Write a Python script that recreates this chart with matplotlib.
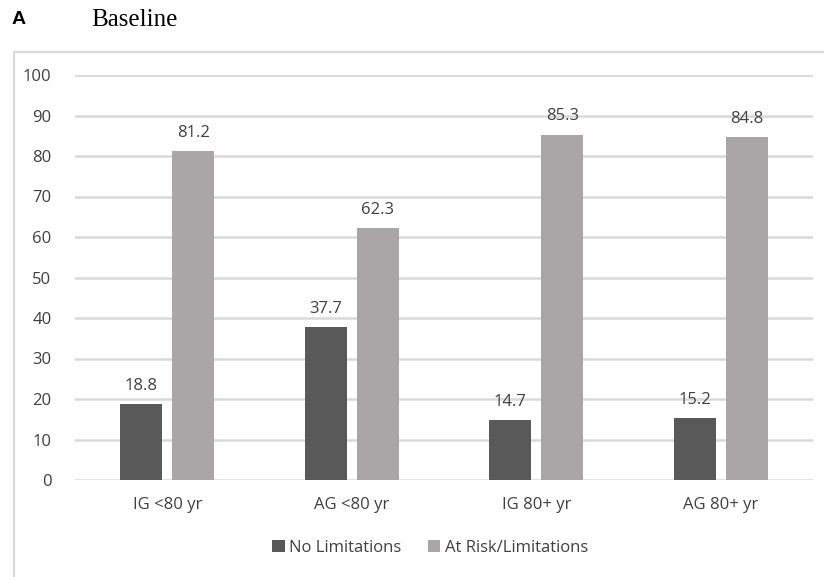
import matplotlib
matplotlib.use("Agg")
import matplotlib.pyplot as plt
from matplotlib.patches import Rectangle
import numpy as np

plt.rcParams['font.family'] = ['Open Sans', 'DejaVu Sans']

groups = ["IG <80 yr", "AG <80 yr", "IG 80+ yr", "AG 80+ yr"]
no_limitations = [18.8, 37.7, 14.7, 15.2]
at_risk = [81.2, 62.3, 85.3, 84.8]
series_names = ["No Limitations", "At Risk/Limitations"]
yticks = list(range(0, 101, 10))

dark = "#595959"
light = "#aaa6a7"
grid_col = "#d9d9d9"
txt_col = "#404040"

fig = plt.figure(figsize=(8.24, 5.77), dpi=100)

# outer chart frame
fig.patches.append(Rectangle((14 / 824, -0.05), 1.0, 1 - 52 / 577 + 0.05,
                             transform=fig.transFigure, fill=False,
                             edgecolor=grid_col, linewidth=1.6))

fig.text(12 / 824, 1 - 20 / 577, "A", fontsize=14, fontweight="bold",
         family="Liberation Sans", va="center", ha="left")
fig.text(91 / 824, 1 - 20 / 577, "Baseline", fontsize=18,
         family="Liberation Serif", va="center", ha="left")

ax = fig.add_axes([75 / 824, 1 - 480 / 577, (813 - 75) / 824, (480 - 75) / 577])
x = np.arange(len(groups))
w = 0.228
gap = 0.054
b1 = ax.bar(x - (w + gap) / 2, no_limitations, w, color=dark, label=series_names[0], zorder=3)
b2 = ax.bar(x + (w + gap) / 2, at_risk, w, color=light, label=series_names[1], zorder=3)

for bars, vals in ((b1, no_limitations), (b2, at_risk)):
    for rect, v in zip(bars, vals):
        ax.annotate(f"{v:.1f}", (rect.get_x() + rect.get_width() / 2, v),
                    xytext=(0, 13), textcoords="offset points",
                    ha="center", va="center", fontsize=12, color=txt_col)

ax.set_xlim(-0.5, len(groups) - 0.5)
ax.set_ylim(0, 100)
ax.set_yticks(yticks)
ax.set_xticks(x)
ax.set_xticklabels(groups)
ax.tick_params(axis="both", length=0, labelsize=12, labelcolor=txt_col)
ax.tick_params(axis="y", pad=17)
ax.tick_params(axis="x", pad=12)
ax.yaxis.grid(True, color=grid_col, linewidth=1.8, zorder=0)
for s in ax.spines.values():
    s.set_visible(False)
ax.set_axisbelow(True)

fig.legend(handles=[b1, b2], labels=series_names, loc="center",
           bbox_to_anchor=(430 / 824, 1 - 548 / 577), ncol=2, frameon=False,
           fontsize=12, handlelength=0.75, handleheight=0.75, handletextpad=0.25,
           columnspacing=1.6, labelcolor=txt_col)

fig.savefig("out.png", dpi=100)
